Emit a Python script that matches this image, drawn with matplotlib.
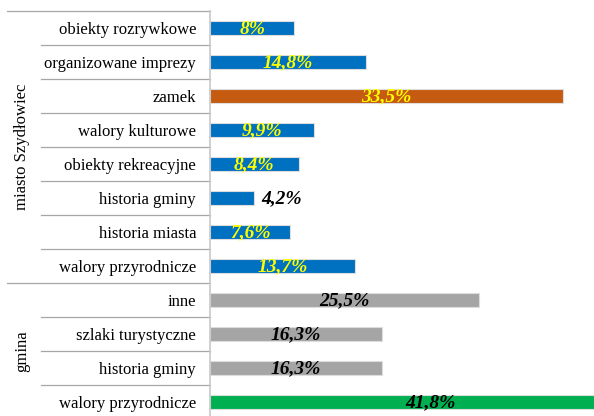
import matplotlib.pyplot as plt
from matplotlib import rcParams

rcParams['font.family'] = ['Liberation Serif', 'DejaVu Serif']

# dane
categories = ['obiekty rozrywkowe', 'organizowane imprezy', 'zamek', 'walory kulturowe',
              'obiekty rekreacyjne', 'historia gminy', 'historia miasta', 'walory przyrodnicze',
              'inne', 'szlaki turystyczne', 'historia gminy', 'walory przyrodnicze']
values = [8.0, 14.8, 33.5, 9.9, 8.4, 4.2, 7.6, 13.7, 25.5, 16.3, 16.3, 41.8]
labels = ['8%', '14,8%', '33,5%', '9,9%', '8,4%', '4,2%', '7,6%', '13,7%',
          '25,5%', '16,3%', '16,3%', '41,8%']
groups = ['miasto Szydłowiec', 'gmina']
group_sizes = [8, 4]

colors = ['#0070C0', '#0070C0', '#C55A11', '#0070C0', '#0070C0', '#0070C0', '#0070C0', '#0070C0',
          '#A5A5A5', '#A5A5A5', '#A5A5A5', '#00B050']
label_colors = ['#FFFF00', '#FFFF00', '#FFFF00', '#FFFF00', '#FFFF00', 'black', '#FFFF00', '#FFFF00',
                'black', 'black', 'black', 'black']

fig = plt.figure(figsize=(5.94, 4.16), dpi=100)
ax = fig.add_axes([210 / 594, -3 / 416, 384 / 594, 408 / 416])

y = list(range(len(categories)))
ax.barh(y, values, height=0.4, color=colors, edgecolor='#DDDDDD', linewidth=0.8)
ax.set_xlim(0, 36.4)
ax.set_ylim(len(categories) - 0.5, -0.5)

for i, (v, lab, c) in enumerate(zip(values, labels, label_colors)):
    if v < 5:
        ax.text(v + 0.7, i + 0.03, lab, ha='left', va='center', color=c,
                fontsize=14, fontweight='bold', fontstyle='italic')
    else:
        ax.text(v / 2, i + 0.03, lab, ha='center', va='center', color=c,
                fontsize=14, fontweight='bold', fontstyle='italic')

ax.set_yticks(y)
ax.set_yticklabels(categories, fontsize=12)
ax.tick_params(axis='y', length=0, pad=10)
ax.set_xticks([])
for s in ['top', 'right', 'bottom']:
    ax.spines[s].set_visible(False)
ax.spines['left'].set_color('#C8C8C8')
ax.spines['left'].set_linewidth(1.2)

# linie tabeli po lewej
tr = ax.get_yaxis_transform()
bounds = [sum(group_sizes[:k]) for k in range(len(group_sizes) + 1)]
for k in range(len(categories)):
    yy = k - 0.5
    x0 = -0.529 if k in bounds else -0.44
    ax.plot([x0, 0], [yy, yy], transform=tr, color='#A6A6A6', lw=0.9, clip_on=False)

for g, a, b in zip(groups, bounds[:-1], bounds[1:]):
    ax.text(-0.49, (a + b - 1) / 2, g, transform=tr, rotation=90,
            ha='center', va='center', fontsize=12)

plt.savefig('out.png', dpi=100)
